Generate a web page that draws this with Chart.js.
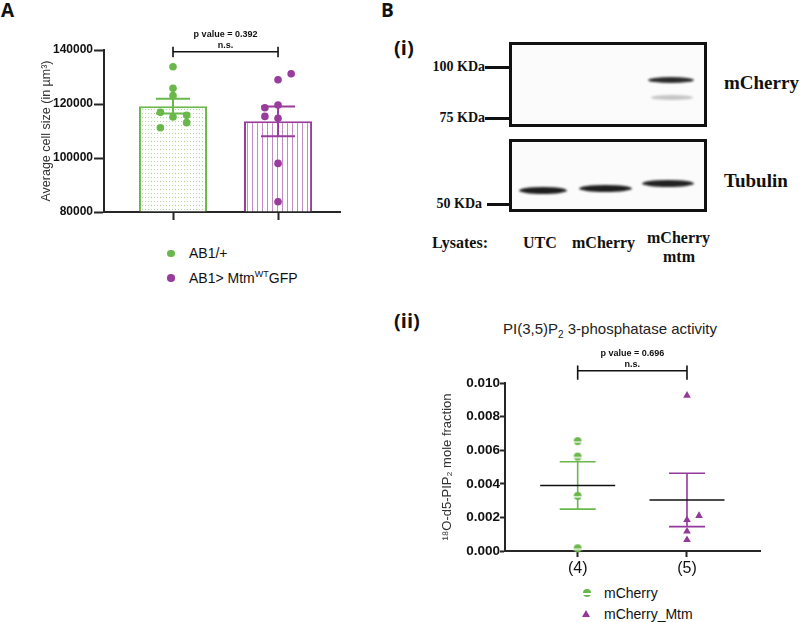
<!DOCTYPE html>
<html>
<head>
<meta charset="utf-8">
<script src="https://cdn.jsdelivr.net/npm/chart.js@4.4.0/dist/chart.umd.min.js"></script>
<style>
  body { margin: 0; background: #fff; }
  #page { position: relative; width: 800px; height: 622px; overflow: hidden; font-family: "Liberation Sans", Arial, sans-serif; color: #111; }
  .t { position: absolute; white-space: nowrap; line-height: 1; transform: translateY(-50%); }
  .r { transform: translate(-100%, -50%); }
  .c { transform: translate(-50%, -50%); }
  .panel { font-family: "Open Sans", sans-serif; font-weight: 700; }
  .serif { font-family: "Liberation Serif", serif; font-weight: 700; }
  .box { position: absolute; box-sizing: border-box; border: 3px solid #111; background: #fbfbfb; }
  .band { position: absolute; border-radius: 50%; filter: blur(1.1px); }
  .mark { position: absolute; height: 3px; background: #111; }
  .dot { position: absolute; border-radius: 50%; }
  canvas { position: absolute; }
</style>
</head>
<body>
<div id="page">
  <div class="t panel" style="left:1px;top:10px;font-size:19px">A</div>
  <div class="t panel" style="left:381px;top:10px;font-size:19px">B</div>

  <!-- blot (i) -->
  <div class="t panel" style="left:394px;top:48px;font-size:20px">(i)</div>
  <div class="box" style="left:509px;top:42px;width:198px;height:85px"></div>
  <div class="box" style="left:509px;top:139px;width:198px;height:73px"></div>
  <div class="band" style="left:648px;top:77px;width:46px;height:6px;background:#2a2a2a"></div>
  <div class="band" style="left:651px;top:95px;width:42px;height:5px;background:#c4c4c4"></div>
  <div class="band" style="left:519px;top:187px;width:48px;height:7px;background:#1e1e1e"></div>
  <div class="band" style="left:579px;top:185px;width:53px;height:7px;background:#1e1e1e"></div>
  <div class="band" style="left:642px;top:180px;width:52px;height:7px;background:#222"></div>
  <div class="t serif r" style="left:485px;top:67px;font-size:14px">100 KDa</div>
  <div class="mark" style="left:485px;top:66px;width:24px"></div>
  <div class="t serif r" style="left:485px;top:118px;font-size:14px">75 KDa</div>
  <div class="mark" style="left:485px;top:117px;width:24px"></div>
  <div class="t serif r" style="left:482px;top:204px;font-size:14px">50 KDa</div>
  <div class="mark" style="left:487px;top:203px;width:22px"></div>
  <div class="t serif" style="left:724px;top:82px;font-size:19px">mCherry</div>
  <div class="t serif" style="left:724px;top:180px;font-size:19px">Tubulin</div>
  <div class="t serif" style="left:432px;top:243px;font-size:16px">Lysates:</div>
  <div class="t serif" style="left:523px;top:243px;font-size:16px">UTC</div>
  <div class="t serif" style="left:572px;top:243px;font-size:16px">mCherry</div>
  <div class="t serif" style="left:647px;top:238px;font-size:16px">mCherry</div>
  <div class="t serif c" style="left:679px;top:257px;font-size:16px">mtm</div>

  <!-- legend A -->
  <div class="dot" style="left:167px;top:249.5px;width:7.5px;height:7.5px;background:#6ab84a"></div>
  <div class="t" style="left:189px;top:253px;font-size:14px">AB1/+</div>
  <div class="dot" style="left:167px;top:274px;width:7.5px;height:7.5px;background:#983d9c"></div>
  <div class="t" style="left:189px;top:278px;font-size:14px">AB1&gt; Mtm<span style="font-size:9px;position:relative;top:-6px">WT</span>GFP</div>

  <!-- panel (ii) -->
  <div class="t panel" style="left:394px;top:321px;font-size:20px">(ii)</div>
  <div class="t" style="left:503px;top:328px;font-size:15px;color:#222">PI(3,5)P<span style="font-size:10px;position:relative;top:4px">2</span> 3-phosphatase activity</div>
  <div class="dot" style="left:582.7px;top:588.7px;width:8px;height:8px;background:linear-gradient(#6ab84a 0 55%, #fff 55% 70%, #6ab84a 70%)"></div>
  <div class="t" style="left:604px;top:593px;font-size:14px">mCherry</div>
  <div style="position:absolute;left:582.4px;top:609.5px;width:0;height:0;border-left:4.3px solid transparent;border-right:4.3px solid transparent;border-bottom:7.5px solid #93399b"></div>
  <div class="t" style="left:604px;top:613.5px;font-size:14px">mCherry_Mtm</div>

  <canvas id="cellSize" width="345" height="230" style="left:0;top:0"></canvas>
  <canvas id="phosphatase" width="400" height="280" style="left:380px;top:300px"></canvas>
</div>

<script>
// panel A: average cell size
const groupsA = ['AB1/+', 'AB1> MtmWTGFP'];
const barMeansA = [119200, 113600];
const barSemA = [2700, 5500];
const ab1Sizes = [133800, 125800, 123100, 116900, 115200, 115800, 113100, 111200];
const ab1Offsets = [0, 0, 0, -0.12, 0, 0.13, 0.13, -0.12];
const mtmSizes = [129000, 131200, 118600, 119600, 115400, 114700, 98000, 83800];
const mtmOffsets = [0, 0.125, -0.125, 0, -0.125, 0, 0, 0];
const sizeTicks = [80000, 100000, 120000, 140000];

// panel B(ii): phosphatase activity
const groupsB = ['(4)', '(5)'];
const mcherryFraction = [0.00654, 0.00562, 0.00328, 0.00016];
const mtmFraction = [0.00926, 0.00185, 0.0021, 0.00117, 0.00066];
const mtmFractionOffsets = [0, 0, 0.11, 0, 0];
const fractionMeans = [0.0039, 0.00304];
const fractionSem = [0.00141, 0.00159];
const fractionTicks = [0, 0.002, 0.004, 0.006, 0.008, 0.010];

const green = '#6ab84a';
const purple = '#983d9c';
const axisColor = '#262626';
const sans = '"Liberation Sans", Arial, sans-serif';

const makePattern = (ctx, w, h, draw) => {
    const c = document.createElement('canvas');
    c.width = w;
    c.height = h;
    const g = c.getContext('2d');
    g.fillStyle = '#fff';
    g.fillRect(0, 0, w, h);
    draw(g);
    return ctx.createPattern(c, 'repeat');
};

const drawErrors = (chart, o) => {
    const {ctx, scales: {x, y}} = chart;
    ctx.save();
    ctx.lineWidth = o.width;
    o.means.forEach((m, i) => {
        const cx = x.getPixelForValue(i + 1);
        const top = y.getPixelForValue(m + o.sems[i]);
        const bottom = y.getPixelForValue(m - o.sems[i]);
        ctx.strokeStyle = o.colors[i];
        ctx.beginPath();
        ctx.moveTo(cx, top);
        ctx.lineTo(cx, bottom);
        ctx.moveTo(cx - o.cap, top);
        ctx.lineTo(cx + o.cap, top);
        ctx.moveTo(cx - o.cap, bottom);
        ctx.lineTo(cx + o.cap, bottom);
        ctx.stroke();
        if (o.meanHalf) {
            const my = y.getPixelForValue(m);
            ctx.strokeStyle = '#111';
            ctx.beginPath();
            ctx.moveTo(cx - o.meanHalf, my);
            ctx.lineTo(cx + o.meanHalf, my);
            ctx.stroke();
        }
    });
    ctx.restore();
};

const bracket = {
    id: 'bracket',
    afterDraw(chart, args, o) {
        const {ctx, scales: {x, y}} = chart;
        const x1 = x.getPixelForValue(1);
        const x2 = x.getPixelForValue(2);
        const yy = y.getPixelForValue(o.at);
        ctx.save();
        ctx.strokeStyle = '#111';
        ctx.lineWidth = 1.6;
        ctx.beginPath();
        ctx.moveTo(x1, yy - o.up);
        ctx.lineTo(x1, yy + o.down);
        ctx.moveTo(x1, yy);
        ctx.lineTo(x2, yy);
        ctx.moveTo(x2, yy - o.up);
        ctx.lineTo(x2, yy + o.down);
        ctx.stroke();
        ctx.fillStyle = '#111';
        ctx.font = 'bold 9px ' + sans;
        ctx.textAlign = 'center';
        ctx.textBaseline = 'middle';
        ctx.fillText(o.label, (x1 + x2) / 2, yy - o.gap1);
        ctx.fillText('n.s.', (x1 + x2) / 2, yy - o.gap2);
        ctx.restore();
    }
};

const axisStyle = (tickLength) => ({
    offset: false,
    grid: { offset: false, drawOnChartArea: false, tickLength: tickLength, tickColor: axisColor, tickWidth: 2 },
    border: { color: axisColor, width: 2 }
});

// ---- chart A ----
const ctxA = document.getElementById('cellSize').getContext('2d');
const dotFill = makePattern(ctxA, 3, 4, g => {
    g.fillStyle = 'rgba(106,184,74,0.55)';
    g.fillRect(1, 1, 1, 1);
});
const stripeFill = makePattern(ctxA, 5, 2, g => {
    g.fillStyle = 'rgba(152,61,156,0.6)';
    g.fillRect(2, 0, 1, 2);
});

new Chart(ctxA, {
    type: 'bar',
    data: {
        datasets: [{
            type: 'bar',
            data: barMeansA.map((v, i) => ({x: i + 1, y: v})),
            base: 80000,
            backgroundColor: [dotFill, stripeFill],
            borderColor: [green, purple],
            borderWidth: 2,
            barPercentage: 0.648,
            categoryPercentage: 1,
            order: 2
        }, {
            type: 'scatter',
            data: ab1Sizes.map((v, i) => ({x: 1 + ab1Offsets[i], y: v})),
            backgroundColor: green,
            borderWidth: 0,
            pointRadius: 3.8,
            clip: false,
            order: 1
        }, {
            type: 'scatter',
            data: mtmSizes.map((v, i) => ({x: 2 + mtmOffsets[i], y: v})),
            backgroundColor: purple,
            borderWidth: 0,
            pointRadius: 3.8,
            clip: false,
            order: 1
        }]
    },
    options: {
        responsive: false,
        animation: false,
        layout: { padding: { top: 50, right: 5, left: 0, bottom: 0 } },
        scales: {
            x: {
                type: 'linear', min: 0.343, max: 2.59,
                afterBuildTicks: s => { s.ticks = groupsA.map((g, i) => ({value: i + 1})); },
                afterFit: s => { s.height = 18; s.paddingLeft = 0; s.paddingRight = 0; },
                ticks: { display: false },
                ...axisStyle(8)
            },
            y: {
                min: 80000, max: 140000,
                afterBuildTicks: s => { s.ticks = sizeTicks.map(v => ({value: v})); },
                afterFit: s => { s.width = 104; },
                ticks: { callback: v => String(v), font: { family: sans, weight: 'bold', size: 12 }, color: '#111', padding: 1 },
                title: { display: true, text: 'Average cell size (in µm³)', color: '#333', font: { family: sans, size: 12.5 }, padding: { top: 39, bottom: 0 } },
                ...axisStyle(10)
            }
        },
        plugins: {
            legend: { display: false },
            tooltip: { enabled: false },
            bracket: { at: 139370, up: 5, down: 5.6, gap1: 16.7, gap2: 5.7, label: 'p value = 0.392' }
        }
    },
    plugins: [bracket, {
        id: 'errorA',
        afterDatasetDraw(chart, args) {
            if (args.meta.type !== 'bar') return;
            drawErrors(chart, { means: barMeansA, sems: barSemA, colors: [green, purple], cap: 17, width: 2 });
        }
    }]
});

// ---- chart B(ii) ----
const halfDot = document.createElement('canvas');
halfDot.width = 10;
halfDot.height = 10;
const hd = halfDot.getContext('2d');
hd.fillStyle = green;
hd.beginPath();
hd.arc(5, 5, 3.9, 0, Math.PI * 2);
hd.fill();
hd.fillStyle = '#fff';
hd.fillRect(0, 5.3, 10, 1.3);

new Chart(document.getElementById('phosphatase'), {
    type: 'scatter',
    data: {
        datasets: [{
            data: mcherryFraction.map(v => ({x: 1, y: v})),
            pointStyle: halfDot,
            pointRadius: 4,
            clip: false
        }, {
            data: mtmFraction.map((v, i) => ({x: 2 + mtmFractionOffsets[i], y: v})),
            pointStyle: 'triangle',
            pointRadius: 4.4,
            backgroundColor: '#93399b',
            borderColor: '#93399b',
            borderWidth: 0,
            clip: false
        }]
    },
    options: {
        responsive: false,
        animation: false,
        layout: { padding: { top: 83, right: 20, left: 0, bottom: 0 } },
        scales: {
            x: {
                type: 'linear', min: 0.335, max: 2.668,
                afterBuildTicks: s => { s.ticks = groupsB.map((g, i) => ({value: i + 1})); },
                afterFit: s => { s.height = 29; },
                ticks: { callback: v => groupsB[v - 1], font: { family: sans, size: 16 }, color: '#111', padding: 2 },
                ...axisStyle(6)
            },
            y: {
                min: 0, max: 0.01,
                afterBuildTicks: s => { s.ticks = fractionTicks.map(v => ({value: v})); },
                afterFit: s => { s.width = 125; },
                ticks: { callback: v => v.toFixed(3), font: { family: sans, weight: 'bold', size: 13.5 }, color: '#111', padding: 0 },
                title: { display: true, text: '¹⁸O-d5-PIP₂ mole fraction', color: '#333', font: { family: sans, size: 13 }, padding: { top: 60, bottom: 0 } },
                ...axisStyle(5)
            }
        },
        plugins: {
            legend: { display: false },
            tooltip: { enabled: false },
            bracket: { at: 0.01073, up: 5.3, down: 9, gap1: 17.7, gap2: 6.7, label: 'p value = 0.696' }
        }
    },
    plugins: [bracket, {
        id: 'errorB',
        beforeDatasetsDraw(chart) {
            drawErrors(chart, { means: fractionMeans, sems: fractionSem, colors: [green, '#93399b'], cap: 18, meanHalf: 37.5, width: 1.6 });
        }
    }]
});
</script>
</body>
</html>
